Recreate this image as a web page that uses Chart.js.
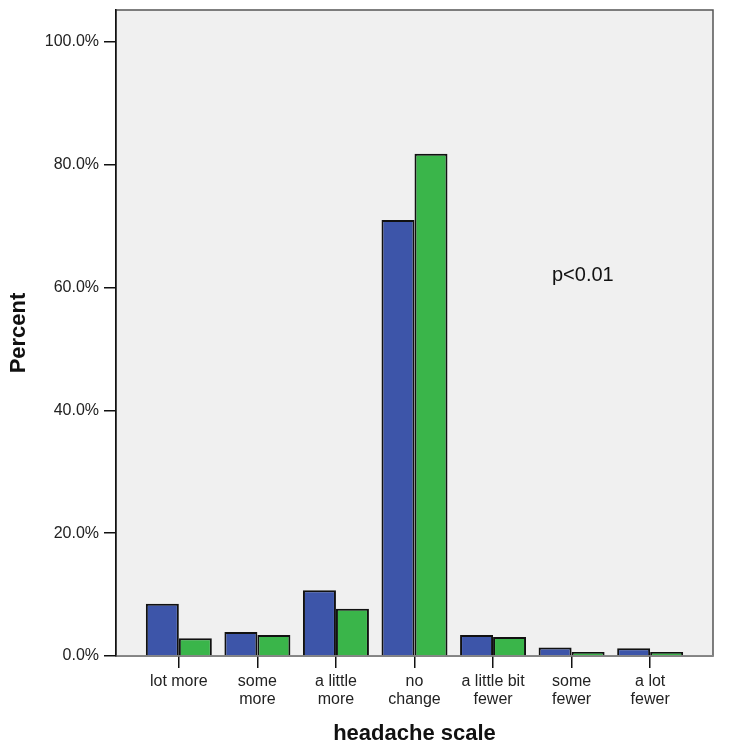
<!DOCTYPE html>
<html>
<head>
<meta charset="utf-8">
<script src="https://cdn.jsdelivr.net/npm/chart.js@4/dist/chart.umd.min.js"></script>
<style>
html,body{margin:0;padding:0;background:#fff;}
#wrap{width:730px;height:755px;}
</style>
</head>
<body>
<div id="wrap"><canvas id="c" width="730" height="755"></canvas></div>
<script>
const categories = ["lot more", "some\nmore", "a little\nmore", "no\nchange", "a little bit\nfewer", "some\nfewer", "a lot\nfewer"];
const seriesA = [8.5, 3.9, 10.7, 71.0, 3.4, 1.4, 1.25];
const seriesB = [2.9, 3.4, 7.7, 81.8, 3.1, 0.65, 0.65];
const yTicks = [0, 20, 40, 60, 80, 100];
const annotation = "p<0.01";

const FONT = "'Liberation Sans', Arial, sans-serif";

const toPoints = arr => arr.map((v, i) => ({x: i + 1, y: v}));

const bgPlugin = {
  id: 'bg',
  beforeDraw(chart) {
    const {ctx, chartArea: a} = chart;
    ctx.save();
    ctx.fillStyle = '#f0f0f0';
    ctx.fillRect(a.left, a.top, a.right - a.left, a.bottom - a.top);
    ctx.strokeStyle = '#555';
    ctx.lineWidth = 1.5;
    ctx.strokeRect(a.left, a.top, a.right - a.left, a.bottom - a.top);
    ctx.restore();
  },
  afterDatasetsDraw(chart) {
    const {ctx, scales} = chart;
    ctx.save();
    ctx.fillStyle = '#111';
    ctx.font = "20px " + FONT;
    ctx.textBaseline = 'middle';
    ctx.textAlign = 'left';
    ctx.fillText(annotation, scales.x.getPixelForValue(5.75), scales.y.getPixelForValue(62));
    ctx.restore();
  }
};

new Chart(document.getElementById('c'), {
  type: 'bar',
  data: {
    datasets: [
      {label: 'A', data: toPoints(seriesA), backgroundColor: '#3d55a9', borderColor: '#111', borderWidth: 2},
      {label: 'B', data: toPoints(seriesB), backgroundColor: '#3ab54a', borderColor: '#111', borderWidth: 2}
    ]
  },
  options: {
    responsive: false,
    animation: false,
    events: [],
    layout: {padding: {top: 10, right: 17, left: 0, bottom: 0}},
    datasets: {bar: {categoryPercentage: 0.84, barPercentage: 1.0}},
    plugins: {legend: {display: false}, tooltip: {enabled: false}},
    scales: {
      x: {
        type: 'linear',
        min: 0.2,
        max: 7.8,
        offset: false,
        afterBuildTicks(scale) { scale.ticks = categories.map((c, i) => ({value: i + 1})); },
        afterFit(scale) { scale.height = 99; scale.paddingLeft = 0; scale.paddingRight = 0; },
        grid: {offset: false, drawOnChartArea: false, drawTicks: true, tickLength: 12, color: '#111', lineWidth: 1.5},
        border: {display: true, color: '#888', width: 1.5},
        ticks: {
          autoSkip: false, maxRotation: 0, padding: 4, color: '#222',
          font: {family: FONT, size: 16, lineHeight: 1.15},
          callback: (v) => { const c = categories[Math.round(v) - 1]; return c ? c.split('\n') : ''; }
        },
        title: {display: true, text: 'headache scale', color: '#111', font: {family: FONT, size: 22, weight: 'bold'}, padding: {top: 0, bottom: 8}}
      },
      y: {
        type: 'linear',
        min: 0,
        max: 105.2,
        afterBuildTicks(scale) { scale.ticks = yTicks.map(v => ({value: v})); },
        afterFit(scale) { scale.width = 116; scale.paddingTop = 0; scale.paddingBottom = 0; },
        grid: {drawOnChartArea: false, drawTicks: true, tickLength: 12, color: '#111', lineWidth: 1.5},
        border: {display: true, color: '#111', width: 1.5},
        ticks: {
          padding: 5, color: '#222',
          font: {family: FONT, size: 16},
          callback: v => v.toFixed(1) + '%'
        },
        title: {display: true, text: 'Percent', color: '#111', font: {family: FONT, size: 22, weight: 'bold'}, padding: {top: 6, bottom: 0}}
      }
    }
  },
  plugins: [bgPlugin]
});
</script>
</body>
</html>
